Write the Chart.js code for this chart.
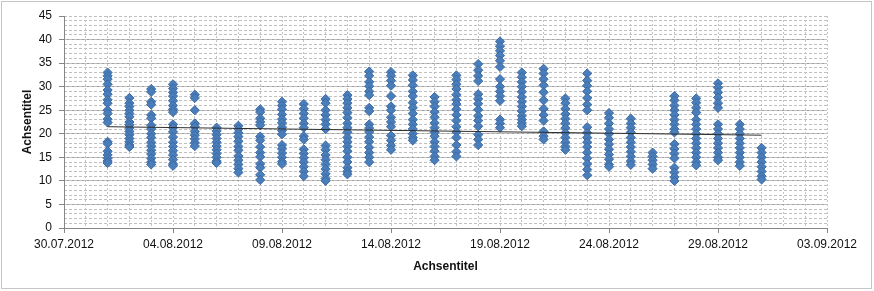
<!DOCTYPE html>
<html>
<head>
<meta charset="utf-8">
<script src="https://cdn.jsdelivr.net/npm/chart.js@4.4.0/dist/chart.umd.min.js"></script>
<style>
  html, body { margin: 0; padding: 0; background: #fff; }
</style>
</head>
<body>
<canvas id="my" width="874" height="291"></canvas>
<script>
// days of August 2012, one column of readings per day
const days = ['01.08.2012','02.08.2012','03.08.2012','04.08.2012','05.08.2012','06.08.2012','07.08.2012',
  '08.08.2012','09.08.2012','10.08.2012','11.08.2012','12.08.2012','13.08.2012','14.08.2012','15.08.2012',
  '16.08.2012','17.08.2012','18.08.2012','19.08.2012','20.08.2012','21.08.2012','22.08.2012','23.08.2012',
  '24.08.2012','25.08.2012','26.08.2012','27.08.2012','28.08.2012','29.08.2012','30.08.2012','31.08.2012'];

const readings = [
  [33, 32.3, 31.6, 30.5, 29.3, 28.4, 27.2, 26.5, 25, 24.3, 23.1, 22.4, 18.3, 17.9, 16.3, 15.5, 14.8, 14.2, 13.8],
  [27.6, 26.5, 25.8, 25, 24.3, 23.6, 22.5, 21.9, 21.2, 20.5, 19.8, 19, 18.3, 17.6, 17.2],
  [29.5, 28.9, 26.8, 26.2, 24, 23.3, 21.8, 21, 20, 19.2, 18.2, 17.4, 16.5, 15.7, 14.8, 14, 13.5],
  [30.5, 29.6, 28.8, 28, 27, 26, 25.2, 24.6, 22, 21.3, 20.4, 19.3, 18.2, 17.3, 16.4, 15.5, 14.5, 13.6, 13.2],
  [28.3, 27.6, 25, 22.2, 21.5, 20.5, 19.7, 18.9, 18.1, 17.4],
  [21.3, 20.6, 19.8, 19, 18.2, 17.4, 16.6, 15.8, 15, 14.2, 13.8],
  [21.7, 21, 20.2, 19.4, 18.4, 17.3, 16.5, 15.3, 14.4, 13.5, 12.6, 11.8],
  [25.2, 24.6, 23.3, 22.5, 21.8, 19.4, 18.6, 17.2, 16, 15.1, 13.6, 12.8, 11.3, 10.2],
  [26.8, 26, 25.2, 24.1, 23.1, 22.3, 21.4, 20.7, 19.9, 17.6, 16.8, 15.9, 15, 14.1, 13.6],
  [26.3, 25.3, 24.3, 23.3, 22.2, 21.3, 19.5, 18.8, 16.7, 15.8, 14.9, 14, 13, 12, 11],
  [27.4, 26.5, 25, 24, 23, 22, 21, 17.5, 16.6, 15.5, 14.5, 13.5, 12.5, 11.5, 10.5, 10],
  [28.2, 27.4, 26.5, 25.5, 24.5, 23.4, 22.2, 21.3, 20.3, 19.2, 18.3, 17.3, 16.3, 15, 14, 12.8, 12, 11.4],
  [33.2, 32.3, 31, 30.1, 29, 28.2, 25.5, 24.8, 22, 21.2, 20.4, 19.3, 18.3, 17.1, 16, 15, 14],
  [33.1, 32.3, 31.3, 30.2, 28, 25.8, 25, 23.5, 22.5, 21.5, 19.6, 18.6, 17.5, 16.6],
  [32.4, 31.4, 30.3, 29, 28, 26.6, 25.5, 24.3, 23, 22, 21, 20, 19.2, 18.6],
  [27.8, 26.8, 25.8, 24.6, 23.5, 22.3, 21.3, 20.3, 19.5, 18.3, 17.3, 16.3, 15.2, 14.4],
  [32.4, 31.5, 30.5, 29.5, 28.3, 27.2, 26.3, 25.2, 24, 22.8, 21.5, 20.4, 19.2, 17.6, 16.2, 15.2],
  [34.8, 33.5, 32.3, 31.2, 28.4, 27.4, 26.4, 25.1, 23.8, 22.8, 21.6, 19.8, 18.8, 17.6],
  [39.6, 38.6, 37.6, 36.6, 35.5, 34.2, 31.6, 30, 29, 28, 27, 23, 22.2, 21.3],
  [33, 32, 31, 30, 28.9, 27.8, 26.8, 25.8, 24.8, 23.8, 23, 22.3, 21.6],
  [33.8, 32.8, 31.6, 30.3, 28.8, 27.1, 25.3, 24, 22.8, 20.5, 19.5, 18.8],
  [27.5, 26.5, 25.3, 24.2, 23.2, 22.2, 21.2, 20.2, 19.2, 18.2, 17.3, 16.6],
  [32.8, 31.3, 30.2, 29, 27.6, 26.2, 25, 21.4, 20.2, 19.2, 18.2, 17.2, 16, 14.8, 13.6, 12.4, 11.2],
  [24.4, 23.4, 22.2, 21, 20, 18.8, 17.8, 16.7, 15.6, 14.6, 13.5, 13],
  [23.2, 22.2, 21.3, 20.3, 19.2, 18.2, 17.2, 16.2, 15.2, 14.2, 13.4],
  [16, 15.2, 14.4, 13.5, 12.6],
  [28, 27.1, 26, 25, 24, 23, 22, 21, 20.3, 17.8, 16.8, 15.8, 14.8, 12.8, 11.8, 10.8, 10],
  [27.5, 26.6, 25.5, 24.5, 23, 22, 21, 20, 19, 18, 17, 16, 15, 14, 13.3],
  [30.7, 29.8, 28.8, 27.7, 26.5, 25.5, 22, 21, 20, 19, 18, 17, 16, 15, 14.4],
  [22, 21, 20, 19, 18, 17, 16, 15, 14, 13.2],
  [17, 16, 15, 14, 13, 12, 11, 10.3]
];

// linear trend line as drawn in the reference
const trendDays = ['01.08.2012', '31.08.2012'];
const trendValues = [21.5, 19.7];

const axisStart = '30.07.2012';
const axisEnd = '03.09.2012';
const yTicksMax = 45;

function parseDate(s) {
  const p = s.split('.');
  return Date.UTC(+p[2], +p[1] - 1, +p[0]);
}
const DAY = 86400000;
const t0 = parseDate(axisStart);
function offset(s) { return Math.round((parseDate(s) - t0) / DAY); }
function fmt(v) {
  const d = new Date(t0 + v * DAY);
  const dd = String(d.getUTCDate()).padStart(2, '0');
  const mm = String(d.getUTCMonth() + 1).padStart(2, '0');
  return dd + '.' + mm + '.' + d.getUTCFullYear();
}

const points = [];
days.forEach(function(day, i) {
  readings[i].forEach(function(v) { points.push({x: offset(day), y: v}); });
});
const trend = trendDays.map(function(d, i) { return {x: offset(d), y: trendValues[i]}; });

const font = "'Liberation Sans', Arial, sans-serif";
const textColor = '#111111';

const frame = {
  id: 'frame',
  afterDraw(chart) {
    const c = chart.ctx;
    c.save();
    c.strokeStyle = '#8a8a8a';
    c.lineWidth = 1;
    c.setLineDash([1, 1]);
    c.strokeRect(1.5, 1.5, 870, 287);
    c.restore();
  }
};

const ctx = document.getElementById('my');

new Chart(ctx, {
  type: 'scatter',
  data: {
    datasets: [{
      type: 'line',
      data: trend,
      borderColor: '#2e2e2e',
      borderWidth: 1,
      pointRadius: 0,
      fill: false,
      order: 0
    }, {
      data: points,
      pointStyle: 'rectRot',
      pointRadius: 4.6,
      backgroundColor: '#4a7ebb',
      borderColor: '#3b6aa3',
      borderWidth: 1,
      order: 1
    }]
  },
  options: {
    responsive: false,
    animation: false,
    events: [],
    layout: { padding: { top: 16, right: 47, bottom: 0, left: 0 } },
    plugins: { legend: { display: false }, tooltip: { enabled: false } },
    scales: {
      x: {
        type: 'linear', position: 'bottom',
        min: 0, max: offset(axisEnd),
        afterFit: function(s) { s.height = 63; },
        ticks: { stepSize: 5, padding: 4, color: textColor, font: { family: font, size: 12 },
                 maxRotation: 0, autoSkip: false, callback: fmt },
        grid: {
          color: function(c) { return c.tick && c.tick.value === offset(axisEnd) ? 'rgba(0,0,0,0)' : '#8c8c8c'; },
          tickColor: '#868686', tickLength: 5
        },
        border: { color: '#868686', dash: [2, 2] },
        title: { display: true, text: 'Achsentitel', color: textColor,
                 font: { family: font, size: 12, weight: 'bold' }, padding: { top: 0, bottom: 17 } }
      },
      xMinor: {
        type: 'linear', position: 'bottom',
        min: 0, max: offset(axisEnd),
        afterFit: function(s) { s.height = 0; },
        ticks: { display: false, stepSize: 1 },
        grid: { color: '#c4c4c4', drawTicks: false },
        border: { display: false, dash: [2, 2] }
      },
      y: {
        type: 'linear', position: 'left',
        min: 0, max: yTicksMax,
        afterFit: function(s) { s.width = 64; },
        ticks: { stepSize: 5, padding: 7, color: textColor, font: { family: font, size: 12 } },
        grid: {
          color: function(c) { return c.tick && c.tick.value === yTicksMax ? 'rgba(0,0,0,0)' : '#a0a0a0'; },
          tickColor: '#868686', tickLength: 5
        },
        border: { color: '#868686' },
        title: { display: true, text: 'Achsentitel', color: textColor,
                 font: { family: font, size: 12, weight: 'bold' }, padding: { top: 20, bottom: 0 } }
      },
      yMinor: {
        type: 'linear', position: 'left',
        min: 0, max: yTicksMax,
        afterFit: function(s) { s.width = 0; },
        ticks: { display: false, stepSize: 1 },
        grid: { color: '#c0c0c0', drawTicks: false },
        border: { display: false, dash: [3, 2] }
      }
    }
  },
  plugins: [frame]
});
</script>
</body>
</html>
